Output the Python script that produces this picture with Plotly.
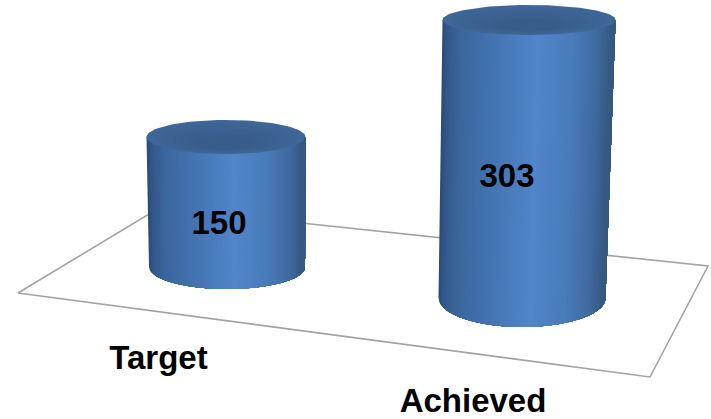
import numpy as np
import plotly.graph_objects as go

CATEGORIES = ["Target", "Achieved"]
VALUES = [150, 303]

# picture geometry, in pixels of the 711x419 frame
W, H = 711, 419
PX_PER_UNIT = 0.89
DEPTH_SCALE = [0.974, 1.031]
BASE_CX = [227, 522]
BASE_RX = [78, 83.5]
BASE_RY = [22, 29]
BASE_PY = [267, 298]
TOP_CX = [226, 529]
TOP_RX = [79.5, 86.5]
TOP_RY = [17, 15]
FLOOR_PX = [18, 650, 708, 159, 18]
FLOOR_PY = [293, 377, 266, 208, 293]
VALUE_LABEL_PX = [219, 507]
VALUE_LABEL_PY = [225.5, 178.5]
CAT_LABEL_PX = [158.5, 473]
CAT_LABEL_PY = [361, 404]

SIDE_T = [0.0, 0.03, 0.1, 0.3, 0.55, 0.75, 0.9, 0.97, 1.0]
SIDE_R = [44, 50, 58, 68, 82, 74, 64, 54, 56]
SIDE_G = [74, 88, 102, 116, 134, 124, 106, 90, 88]
SIDE_B = [118, 138, 155, 178, 202, 188, 160, 132, 125]


def yv(py):
    return (H - np.asarray(py, float)) / PX_PER_UNIT


fig = go.Figure()
fig.add_trace(go.Scatter(x=FLOOR_PX, y=yv(FLOOR_PY), mode="lines",
                         line=dict(color="#a3a3a3", width=1.6), hoverinfo="skip"))

N = 90
for i, (cat, val) in enumerate(zip(CATEGORIES, VALUES)):
    base = yv(BASE_PY[i])
    top = base + val * DEPTH_SCALE[i]
    ry_b = BASE_RY[i] / PX_PER_UNIT
    xs = np.linspace(0, 1, N, endpoint=False)
    for t in xs:
        # each strip runs from its own left edge to the right rim; the next one paints over it
        c = "rgb(%d,%d,%d)" % (np.interp(t + 0.5 / N, SIDE_T, SIDE_R),
                               np.interp(t + 0.5 / N, SIDE_T, SIDE_G),
                               np.interp(t + 0.5 / N, SIDE_T, SIDE_B))
        th = np.linspace(np.arccos(1 - 2 * t), np.pi, 40)
        xb = BASE_CX[i] - BASE_RX[i] * np.cos(th)
        yb = base - ry_b * np.sin(th)
        xt = TOP_CX[i] - TOP_RX[i] * np.cos(th[[-1, 0]])
        fig.add_trace(go.Scatter(
            x=np.r_[xb, xt, xb[0]], y=np.r_[yb, top, top, yb[0]],
            mode="lines", fill="toself", fillcolor=c,
            line=dict(width=0), hoverinfo="skip"))
    # top cap: nested ellipses
    ph = np.linspace(0, 2 * np.pi, 121)
    ry_t = TOP_RY[i] / PX_PER_UNIT
    rings = np.linspace(1, 0.35, 7)
    for k, s in enumerate(rings):
        f = k / (len(rings) - 1)
        c = "rgb(%d,%d,%d)" % (62 - 6 * f, 102 - 9 * f, 150 - 12 * f)
        fig.add_trace(go.Scatter(
            x=TOP_CX[i] + s * TOP_RX[i] * np.cos(ph),
            y=top + (s * np.sin(ph) - (1 - s) * 0.55) * ry_t,
            mode="lines", fill="toself", fillcolor=c,
            line=dict(width=0), hoverinfo="skip"))

font = dict(family="Liberation Sans", size=33, color="#000000")
fig.add_trace(go.Scatter(
    x=VALUE_LABEL_PX, y=yv(VALUE_LABEL_PY), mode="text",
    text=["<b>%d</b>" % v for v in VALUES], textposition="middle center",
    textfont=font, hoverinfo="skip"))
fig.add_trace(go.Scatter(
    x=CAT_LABEL_PX, y=yv(CAT_LABEL_PY), mode="text",
    text=["<b>%s</b>" % c for c in CATEGORIES], textposition="middle center",
    textfont=font, hoverinfo="skip"))

fig.update_layout(
    width=W, height=H, margin=dict(l=0, r=0, t=0, b=0),
    paper_bgcolor="#ffffff", plot_bgcolor="#ffffff", showlegend=False,
    xaxis=dict(range=[0, W], visible=False, fixedrange=True),
    yaxis=dict(range=[0, H / PX_PER_UNIT], visible=False, fixedrange=True),
)
fig.write_html("out.html", config={"displayModeBar": False},
               post_script="document.body.style.margin='0';document.documentElement.style.overflow='hidden';")
